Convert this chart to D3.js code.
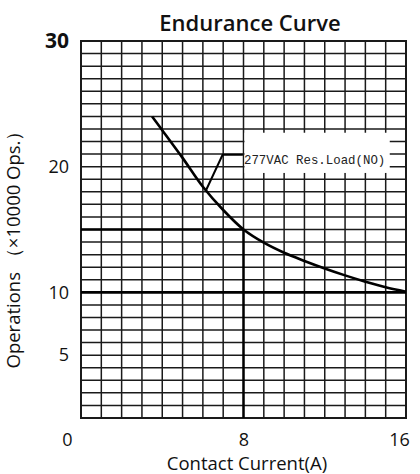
<!DOCTYPE html>
<html>
<head>
<meta charset="utf-8">
<script src="https://cdn.jsdelivr.net/npm/d3@7"></script>
<style>
  html, body { margin: 0; padding: 0; background: #fff; }
  svg { display: block; }
</style>
</head>
<body>
<div id="chart"></div>
<script>
// Endurance curve: contact current vs. operations
const currentA   = [3.5, 4, 5, 6, 7, 8, 9, 10, 11, 12, 13, 14, 15, 16];
const operations = [24, 22.9, 20.7, 18.4, 16.55, 15, 13.95, 13.15, 12.5, 11.9, 11.35, 10.85, 10.4, 10.05];

const xTicks = [0, 8, 16];
const yTicks = [30, 20, 10, 5];

const seriesLabel = "277VAC Res.Load(NO)";
// reference point marked with thick lines
const refPoint = { x: 8, y: 15 };
// leader line from the curve to the label (data units)
const leader = [[6.15, 18.1], [6.97, 20.95], [7.97, 20.95]];
const labelBox = { x0: 8, x1: 15.2, y0: 19.5, y1: 22.7 };

const W = 420, H = 474;
const margin = { top: 41, right: 14, bottom: 56, left: 81 };

const svg = d3.select("#chart").append("svg")
  .attr("width", W).attr("height", H);

const x = d3.scaleLinear().domain([0, 16]).range([margin.left, W - margin.right]);
const y = d3.scaleLinear().domain([0, 30]).range([H - margin.bottom, margin.top]);

const ink = "#1a1a1a";
const font = "Open Sans, sans-serif";

// ── grid ───────────────────────────────────────────────────
const grid = svg.append("g").attr("class", "grid");
grid.selectAll(".vline")
  .data(d3.range(0, 17))
  .join("line")
    .attr("x1", d => x(d)).attr("x2", d => x(d))
    .attr("y1", y(0)).attr("y2", y(30))
    .attr("stroke", ink).attr("stroke-width", 1.5);
grid.selectAll(".hline")
  .data(d3.range(0, 31))
  .join("line")
    .attr("x1", x(0)).attr("x2", x(16))
    .attr("y1", d => y(d)).attr("y2", d => y(d))
    .attr("stroke", ink).attr("stroke-width", 1.5);

// frame
svg.append("rect")
  .attr("x", x(0)).attr("y", y(30))
  .attr("width", x(16) - x(0)).attr("height", y(0) - y(30))
  .attr("fill", "none").attr("stroke", ink).attr("stroke-width", 2);

// thick reference lines
svg.append("line")
  .attr("x1", x(0)).attr("x2", x(16))
  .attr("y1", y(10)).attr("y2", y(10))
  .attr("stroke", "#000").attr("stroke-width", 2.6);
svg.append("line")
  .attr("x1", x(0)).attr("x2", x(refPoint.x))
  .attr("y1", y(refPoint.y)).attr("y2", y(refPoint.y))
  .attr("stroke", "#000").attr("stroke-width", 2.4);
svg.append("line")
  .attr("x1", x(refPoint.x)).attr("x2", x(refPoint.x))
  .attr("y1", y(0)).attr("y2", y(refPoint.y))
  .attr("stroke", "#000").attr("stroke-width", 2.4);

// white label box
svg.append("rect")
  .attr("x", x(labelBox.x0) + 1).attr("y", y(labelBox.y1))
  .attr("width", x(labelBox.x1) - x(labelBox.x0) - 1)
  .attr("height", y(labelBox.y0) - y(labelBox.y1))
  .attr("fill", "#fff");

// ── curve ──────────────────────────────────────────────────
const pts = currentA.map((c, i) => [c, operations[i]]);
svg.append("path")
  .datum(pts)
  .attr("fill", "none")
  .attr("stroke", "#000")
  .attr("stroke-width", 2.6)
  .attr("d", d3.line().x(d => x(d[0])).y(d => y(d[1])).curve(d3.curveCatmullRom.alpha(0.5)));

// leader line
svg.append("path")
  .datum(leader)
  .attr("fill", "none")
  .attr("stroke", "#000")
  .attr("stroke-width", 2)
  .attr("d", d3.line().x(d => x(d[0])).y(d => y(d[1])));

svg.append("text")
  .attr("x", x(labelBox.x0) + 0.5)
  .attr("y", y(20.95) + 9.5)
  .attr("font-family", "Liberation Mono, monospace")
  .attr("font-size", 12.4)
  .attr("fill", "#222")
  .text(seriesLabel);

// ── axes ───────────────────────────────────────────────────
const yAxis = svg.append("g")
  .attr("transform", `translate(${x(0)},0)`)
  .call(d3.axisLeft(y).tickValues(yTicks).tickSize(0).tickPadding(12));
yAxis.select(".domain").remove();
yAxis.selectAll("text")
  .attr("font-family", font)
  .attr("fill", "#111")
  .attr("font-weight", d => d === 30 ? 700 : 500)
  .attr("font-size", d => d === 30 ? 21 : 18);

const xAxis = svg.append("g")
  .attr("transform", `translate(0,${y(0)})`)
  .call(d3.axisBottom(x).tickValues(xTicks).tickSize(0).tickPadding(15));
xAxis.select(".domain").remove();
xAxis.selectAll("text")
  .attr("font-family", font)
  .attr("font-size", 18)
  .attr("font-weight", 500)
  .attr("fill", "#111")
  .attr("dx", d => d === 0 ? -14 : d === 16 ? -7 : 0);

// titles
svg.append("text")
  .attr("x", 250).attr("y", 31)
  .attr("text-anchor", "middle")
  .attr("font-family", font)
  .attr("font-size", 22)
  .attr("font-weight", 600)
  .attr("fill", "#111")
  .text("Endurance Curve");

svg.append("text")
  .attr("x", 247).attr("y", 470)
  .attr("text-anchor", "middle")
  .attr("font-family", font)
  .attr("font-size", 18.5)
  .attr("font-weight", 500)
  .attr("fill", "#111")
  .text("Contact Current(A)");

svg.append("text")
  .attr("transform", "translate(20,245) rotate(-90)")
  .attr("text-anchor", "middle")
  .attr("font-family", font)
  .attr("font-size", 18.5)
  .attr("font-weight", 500)
  .attr("fill", "#111")
  .text("Operations （×10000 Ops.）");
</script>
</body>
</html>
